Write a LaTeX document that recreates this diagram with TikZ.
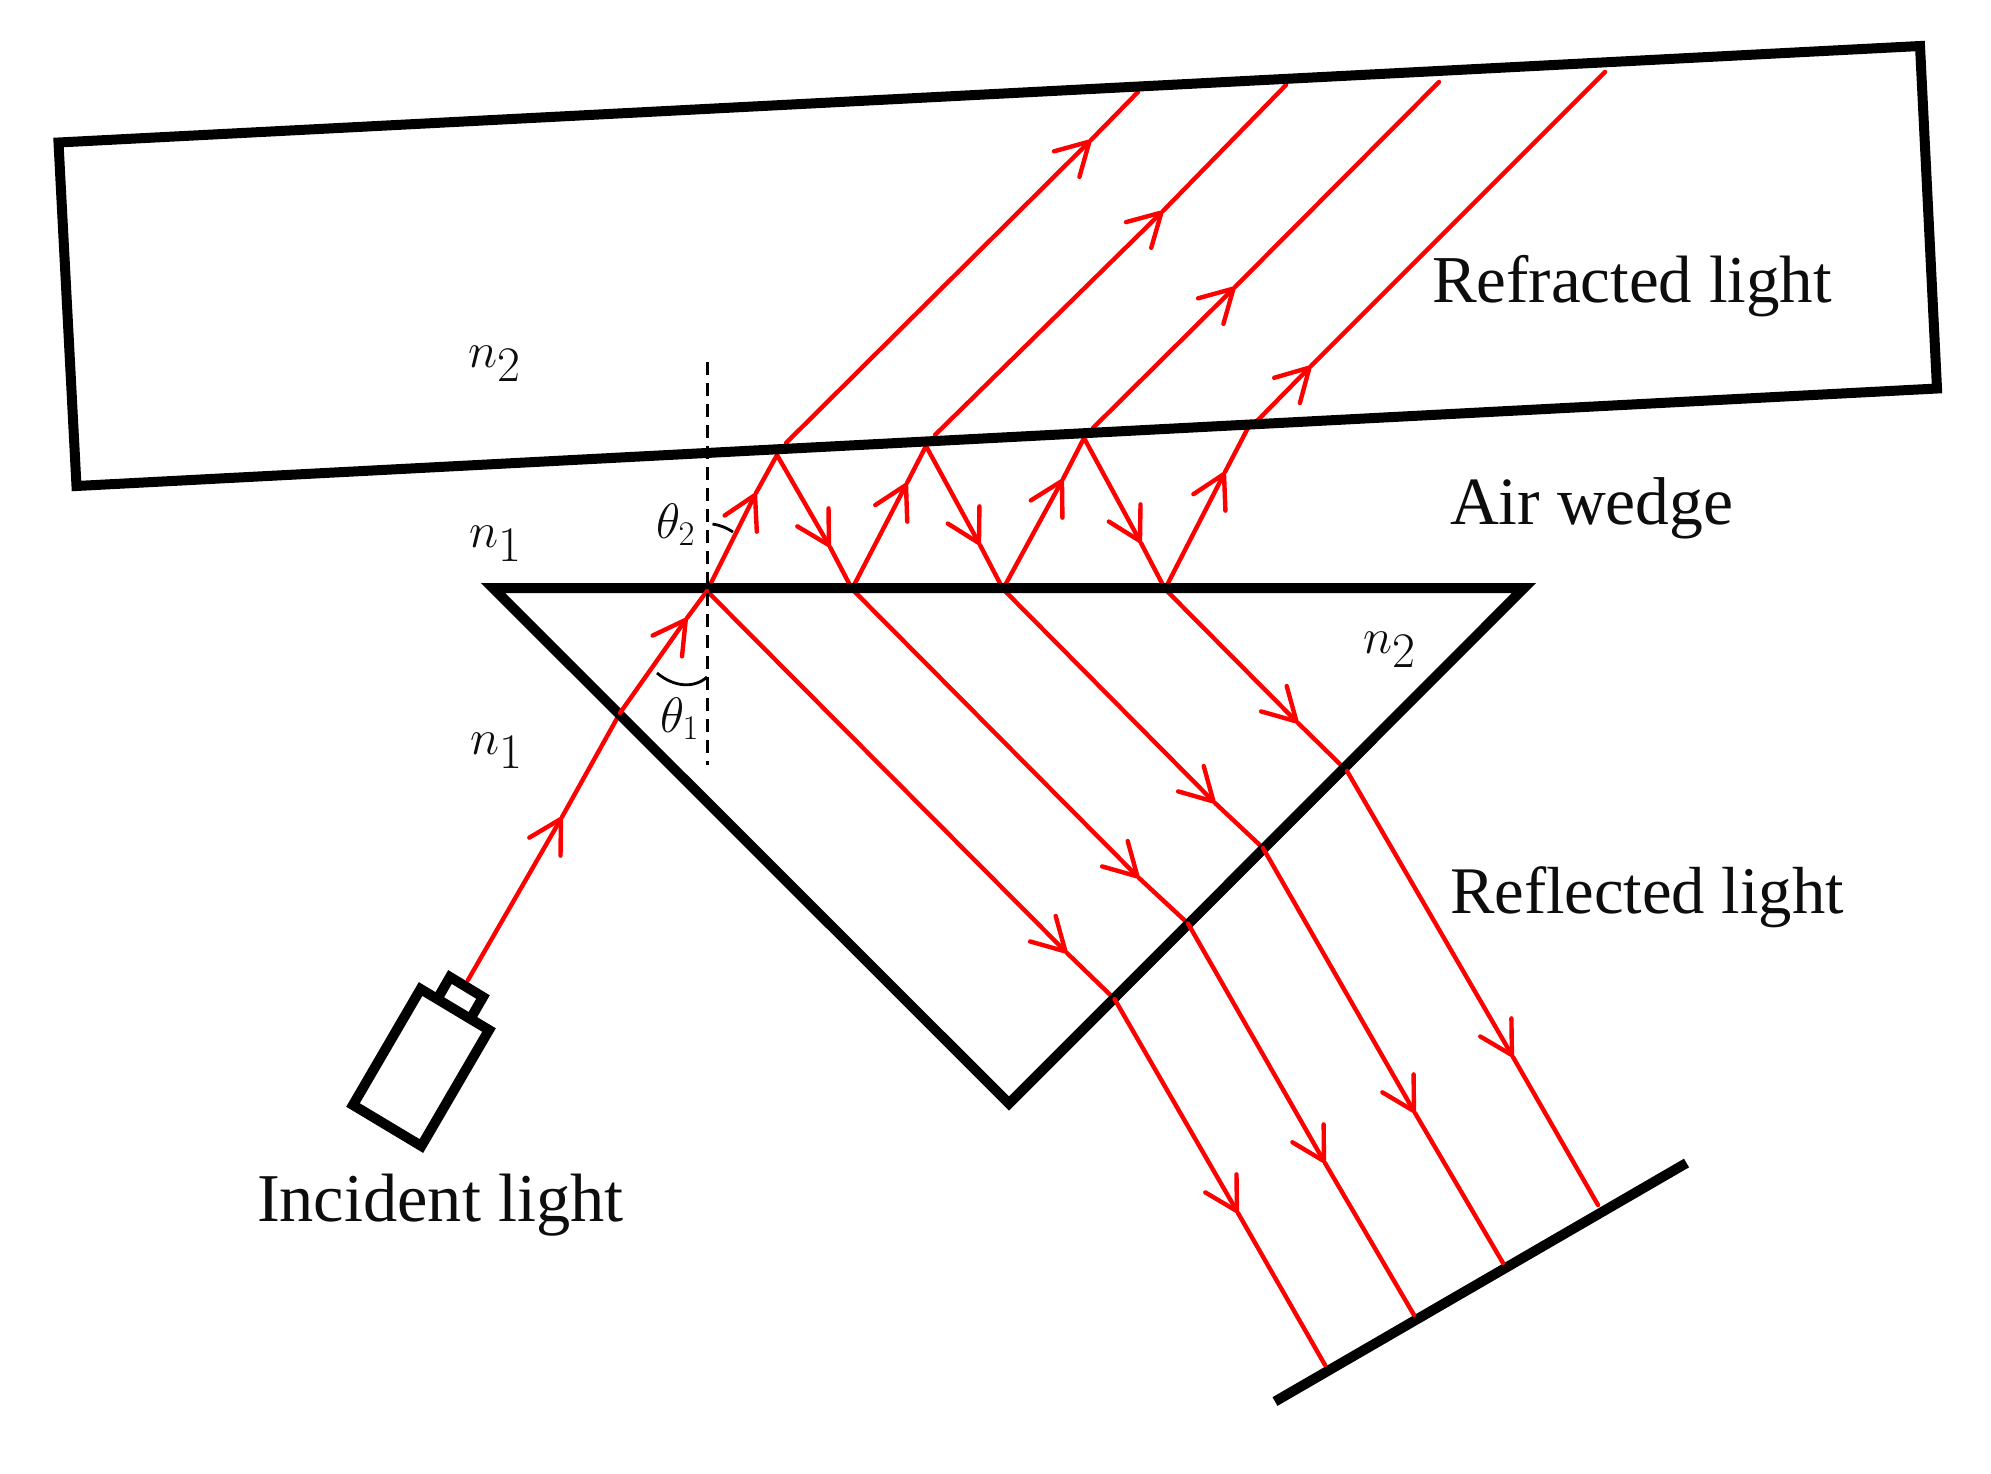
\documentclass[tikz,border=0pt]{standalone}
\usepackage{fontspec}
\setmainfont{Liberation Serif}
\usetikzlibrary{arrows.meta}
\newcommand{\ArrowRay}[3]{\draw[tipped] (#1) -- (#2); \draw[ray] (#2) -- (#3);}
\tikzset{
  ray/.style={draw=red,line width=2.2pt,line cap=round,line join=round},
  tipped/.style={ray,-{Straight Barb[length=16pt,width=18pt,line width=2.2pt,round]}},
  solid body/.style={draw=black,line width=5pt,line join=miter,miter limit=10},
  guide/.style={draw=black,line width=1.5pt,dash pattern=on 6.5pt off 4pt},
  anglearc/.style={draw=black,line width=1.4pt},
  caption/.style={anchor=base west,inner sep=0pt,outer sep=0pt,text=black!95},
  sym/.style={anchor=base west,inner sep=0pt,outer sep=0pt,text=black!95,font=\fontsize{35}{42}\selectfont},
  angsym/.style={anchor=base west,inner sep=0pt,outer sep=0pt,text=black!95,font=\fontsize{25}{30}\selectfont},
}
\begin{document}
\begin{tikzpicture}[x=0.5pt,y=-0.5pt]
\useasboundingbox (0,0) rectangle (1991,1473);
% surfaces
\coordinate (sTL) at (58.5,142.5);
\coordinate (sTR) at (1920,46);
\coordinate (sBR) at (1937,388.5);
\coordinate (sBL) at (76.5,486);
\coordinate (pL) at (493,588);
\coordinate (pR) at (1524,588);
\coordinate (pB) at (1009,1103.5);
\coordinate (dA) at (1275,1401.5);
\coordinate (dB) at (1686.5,1163);
% incident ray
\coordinate (lampOut) at (468,980);
\coordinate (iTip1) at (562,817);
\coordinate (iCross) at (620,713);
\coordinate (iTip2) at (687,618);
\coordinate (h1) at (707,591);
% wedge
\coordinate (u1) at (756,493);
\coordinate (a1) at (777,455);
\coordinate (d1) at (830,547);
\coordinate (h2) at (852,589);
\coordinate (u2) at (907,483);
\coordinate (a2) at (926,446);
\coordinate (d2) at (980,545);
\coordinate (h3) at (1003,589);
\coordinate (u3) at (1063,479);
\coordinate (a3) at (1084,438);
\coordinate (d3) at (1141,543);
\coordinate (h4) at (1165,589);
\coordinate (u4) at (1225,472);
\coordinate (a4) at (1250,424);
% refracted rays
\coordinate (r1s) at (786,443);
\coordinate (r1t) at (1091,140);
\coordinate (r1e) at (1138,92);
\coordinate (r2s) at (935,435);
\coordinate (r2t) at (1163,211);
\coordinate (r2e) at (1286,85);
\coordinate (r3s) at (1093,428);
\coordinate (r3t) at (1235,287);
\coordinate (r3e) at (1439,82);
\coordinate (r4s) at (1256,422);
\coordinate (r4t) at (1311,366);
\coordinate (r4e) at (1605,72);
% reflected rays in the prism
\coordinate (p1t) at (1067,953);
\coordinate (x1) at (1114.5,999);
\coordinate (p2t) at (1139,878);
\coordinate (x2) at (1188,923.5);
\coordinate (p3t) at (1215,803);
\coordinate (x3) at (1263,848);
\coordinate (p4t) at (1298,723);
\coordinate (x4) at (1347,771);
% reflected rays after the prism
\coordinate (o1t) at (1238,1213);
\coordinate (o1e) at (1325,1365);
\coordinate (o2t) at (1325,1163);
\coordinate (o2e) at (1414,1315);
\coordinate (o3t) at (1415,1113);
\coordinate (o3e) at (1503,1263);
\coordinate (o4t) at (1513,1057);
\coordinate (o4e) at (1598,1205);
% rays below the black outlines
\ArrowRay{lampOut}{iTip1}{iCross}
\ArrowRay{h1}{u1}{a1}
\ArrowRay{a1}{d1}{h2}
\ArrowRay{h2}{u2}{a2}
\ArrowRay{a2}{d2}{h3}
\ArrowRay{h3}{u3}{a3}
\ArrowRay{a3}{d3}{h4}
\ArrowRay{h4}{u4}{a4}
\ArrowRay{r1s}{r1t}{r1e}
\ArrowRay{r2s}{r2t}{r2e}
\ArrowRay{r3s}{r3t}{r3e}
\ArrowRay{r4s}{r4t}{r4e}
\ArrowRay{h1}{p1t}{x1}
\ArrowRay{h2}{p2t}{x2}
\ArrowRay{h3}{p3t}{x3}
\ArrowRay{h4}{p4t}{x4}
% black outlines
\draw[solid body] (sTL) -- (sTR) -- (sBR) -- (sBL) -- cycle;
\draw[solid body] (pL) -- (pR) -- (pB) -- cycle;
\draw[solid body] (dA) -- (dB);
% lamp
\coordinate (lTL) at (420.6,989);
\coordinate (lTR) at (489,1030);
\coordinate (lBR) at (421.4,1146);
\coordinate (lBL) at (353,1105);
\coordinate (cTL) at (450,977);
\coordinate (cTR) at (483,997);
\coordinate (cBL) at (437.3,999);
\coordinate (cBR) at (470.4,1018.8);
\draw[solid body] (lTL) -- (lTR) -- (lBR) -- (lBL) -- cycle;
\draw[solid body] (cBL) -- (cTL) -- (cTR) -- (cBR);
% rays above the black outlines
\ArrowRay{iCross}{iTip2}{h1}
\ArrowRay{x1}{o1t}{o1e}
\ArrowRay{x2}{o2t}{o2e}
\ArrowRay{x3}{o3t}{o3e}
\ArrowRay{x4}{o4t}{o4e}
% normal and angle arcs
\coordinate (nTop) at (707,362);
\coordinate (nBot) at (707,765);
\draw[guide] (nTop) -- (nBot);
\coordinate (arc1a) at (657,673);
\coordinate (arc1b) at (707,677);
\coordinate (arc2a) at (712.5,524);
\coordinate (arc2b) at (733,532);
\draw[anglearc] (arc1a) .. controls (675,688) and (695,688) .. (arc1b);
\draw[anglearc] (arc2a) .. controls (720,525) and (727,528) .. (arc2b);
% labels
\node[caption,font=\fontsize{33.5}{40}\selectfont] (refr) at (1432,302) {Refracted light};
\node[caption,font=\fontsize{33.8}{40}\selectfont] (air) at (1450,524) {Air wedge};
\node[caption,font=\fontsize{33.3}{40}\selectfont] (refl) at (1450,913) {Reflected light};
\node[caption,font=\fontsize{34.2}{40}\selectfont] (inc) at (257,1221) {Incident light};
\node[sym] (nA) at (468,367) {$n_2$};
\node[sym] (nB) at (469,547) {$n_1$};
\node[sym] (nC) at (470,754) {$n_1$};
\node[sym] (nD) at (1363,653) {$n_2$};
\node[angsym] (tB) at (656,538) {$\theta_2$};
\node[angsym] (tA) at (660,732) {$\theta_1$};
\end{tikzpicture}
\end{document}
